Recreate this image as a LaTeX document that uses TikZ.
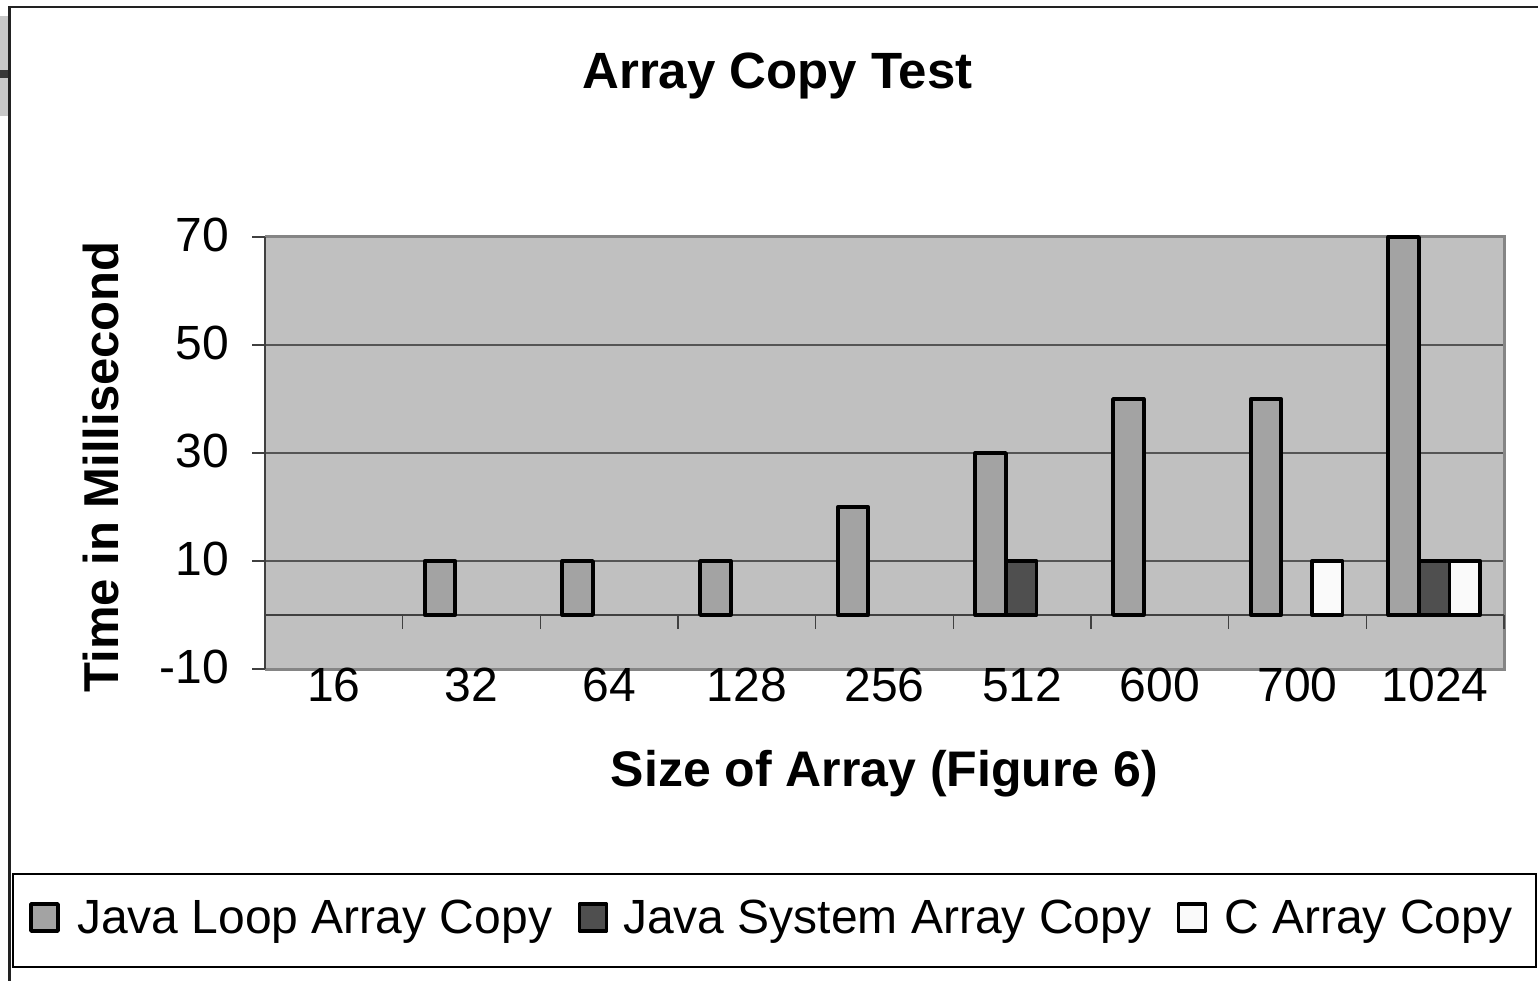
\documentclass[tikz,border=0pt]{standalone}
\usepackage{fontspec}
\setmainfont{Liberation Sans}
\definecolor{plotbg}{HTML}{C0C0C0}
\definecolor{loopc}{HTML}{A3A3A3}
\definecolor{sysc}{HTML}{4F4F4F}
\definecolor{cc}{HTML}{FAFAFA}
\definecolor{gridc}{HTML}{555555}
\definecolor{borderc}{HTML}{858585}
\definecolor{framec}{HTML}{222222}
\definecolor{stripc}{HTML}{C8C8C8}
\definecolor{axisc}{HTML}{404040}
\begin{document}
\begin{tikzpicture}[x=1pt,y=-1pt,
  barbox/.style={draw=black,line width=3.8pt,line join=round},
  mark box/.style={draw=black,line width=3.8pt,line join=round},
  numlab/.style={inner sep=0pt,font=\fontsize{48}{58}\selectfont},
  legtext/.style={inner sep=0pt,anchor=base west,font=\fontsize{48}{58}\selectfont},
  gridline/.style={draw=gridc,line width=1.5pt},
  tickline/.style={draw=axisc,line width=1.5pt}]
\useasboundingbox (0,0) rectangle (1538,981);
% outer frame and left strip
\fill[stripc] (0,16) rectangle (8,116);
\fill[framec!90] (0,70) rectangle (8,78);
\draw[framec,line width=2.5pt] (9.5,981) -- (9.5,7) -- (1540,7);
% plot area
\fill[plotbg] (265,237) rectangle (1504,669);
\foreach \v in {70,50,30,10} {
  \draw[gridline] (265,{615-5.4*\v}) -- (1504,{615-5.4*\v});
}
\draw[borderc,line width=3pt] (265,237) -- (1504,237) -- (1504,669) -- (265,669);
\draw[axisc,line width=2pt] (265,237) -- (265,669);
\foreach \v in {70,50,30,10,-10} {
  \draw[tickline] (252,{615-5.4*\v}) -- (265,{615-5.4*\v});
  \node[numlab,anchor=east] (y\v) at (229,{613-5.4*\v}) {\v};
}
% category axis
\draw[tickline] (265,615) -- (1504,615);
\foreach \k in {1,...,9} {
  \draw[tickline] ({265+\k*137.667},615) -- ({265+\k*137.667},629);
}
\foreach \lab [count=\k from 0] in {16,32,64,128,256,512,600,700,1024} {
  \node[numlab] (x\k) at ({265+(\k+0.5)*137.667},685) {\lab};
}
% bars
\foreach \k/\s/\v/\c in {1/0/10/loopc,2/0/10/loopc,3/0/10/loopc,4/0/20/loopc,
  5/0/30/loopc,5/1/10/sysc,6/0/40/loopc,7/0/40/loopc,7/2/10/cc,
  8/0/70/loopc,8/1/10/sysc,8/2/10/cc} {
  \filldraw[barbox,fill=\c] ({265+\k*137.667+(0.72+\s)*30.593},615) rectangle
    ({265+\k*137.667+(1.72+\s)*30.593},{615-5.4*\v});
}
% titles
\node[inner sep=0pt,anchor=base,font=\fontsize{51}{60}\selectfont\bfseries] (title) at (777.5,89) {Array Copy Test};
\node[inner sep=0pt,anchor=base,rotate=90,font=\fontsize{49}{58}\selectfont\bfseries] (ytitle) at (118,467) {Time in Millisecond};
\node[inner sep=0pt,anchor=base,font=\fontsize{50}{60}\selectfont\bfseries] (xtitle) at (884.5,786) {Size of Array (Figure 6)};
% legend
\draw[black,line width=1.5pt] (13,874) rectangle (1536,967);
\filldraw[mark box,fill=loopc] (31,904) rectangle (58,931);
\node[legtext] (leg1) at (77,933) {Java Loop Array Copy};
\filldraw[mark box,fill=sysc] (579.5,904) rectangle (606.5,931);
\node[legtext] (leg2) at (623,933) {Java System Array Copy};
\filldraw[mark box,fill=cc] (1178.5,904) rectangle (1205.5,931);
\node[legtext] (leg3) at (1224,933) {C Array Copy};
\end{tikzpicture}
\end{document}
